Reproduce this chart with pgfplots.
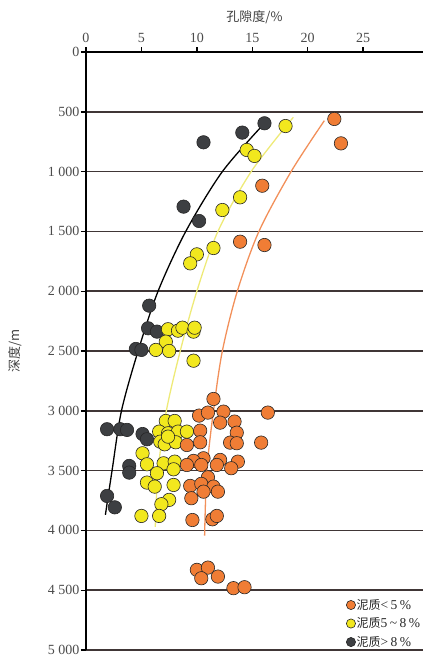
\documentclass[border=0pt]{standalone}
\usepackage{fontspec}
\setmainfont{Liberation Serif}
\newfontfamily\cjk{Noto Sans CJK SC}
\usepackage{pgfplots}
\pgfplotsset{compat=1.18}
\definecolor{orA}{HTML}{F07D35}
\definecolor{yeA}{HTML}{F2E81E}
\definecolor{dkA}{HTML}{3D3F42}
\definecolor{orL}{HTML}{F2905A}
\definecolor{yeL}{HTML}{EEEA78}
\definecolor{gridc}{HTML}{403636}
\newcommand{\nizhi}[1]{{\fontsize{12}{12}\selectfont\cjk 泥质}{\fontsize{13.5}{12}\selectfont #1}}
\newcommand{\gp}{\hspace{2.5pt}}
\begin{document}
\begin{tikzpicture}
\begin{axis}[
  scale only axis, width=337pt, height=598pt,
  xmin=0, xmax=30.4, ymin=0, ymax=5000, y dir=reverse,
  axis x line*=top, axis y line*=left,
  x axis line style={-, line width=1.8pt, black},
  y axis line style={-, line width=2.2pt, black},
  xtick={0,5,...,25}, ytick={0,500,...,5000},
  xtick pos=top, xticklabel pos=top, ytick pos=left,
  tick align=outside, major tick length=5pt,
  tick style={black, line width=1.4pt},
  ymajorgrids, grid style={gridc, line width=1.6pt},
  /pgf/number format/assume math mode=true,
  /pgf/number format/1000 sep={\ },
  ticklabel style={font=\fontsize{14}{14}\selectfont, text=black!70},
  xticklabel style={yshift=1pt},
  yticklabel style={xshift=2pt},
  xlabel={\cjk 孔隙度/\%},
  xlabel style={at={(axis description cs:0.5,1)}, anchor=center, yshift=35pt, font=\fontsize{13}{13}\selectfont, text=black!75},
  ylabel={\cjk 深度/m},
  ylabel style={at={(axis description cs:0,0.5)}, anchor=center, yshift=71pt, font=\fontsize{13}{13}\selectfont, text=black!75},
  legend style={at={(axis description cs:0.995,0)}, anchor=south east, yshift=1pt, draw=none, fill=none,
    row sep=5pt, inner sep=0pt,
    nodes={inner sep=1pt, text=black!85}},
  legend cell align=left, reverse legend,
  legend image code/.code={\draw[#1, mark size=4.6pt] plot coordinates {(0pt,0pt)};},
  clip=false,
]
% trend curves
\addplot[black, line width=1.3pt, smooth, forget plot] coordinates {
(16.1,596) (12.3,1000) (9.0,1500) (6.5,2000) (4.7,2500) (3.2,3000) (2.35,3500) (1.75,3870)};
\addplot[yeL, line width=1.3pt, smooth, forget plot] coordinates {
(18.7,546) (14.9,1000) (11.9,1500) (10.0,2000) (8.5,2500) (7.25,3000) (6.5,3500) (6.25,3970)};
\addplot[orL, line width=1.3pt, smooth, forget plot] coordinates {
(21.5,574) (18.5,1000) (15.6,1500) (13.65,2000) (12.3,2500) (11.5,3000) (10.9,3500) (10.7,4043)};
% dark: mud > 8%
\addplot[only marks, mark=*, mark size=6.7pt, mark options={fill=dkA, draw=black!85, line width=0.6pt}] coordinates {
(16.1,596) (14.1,674) (10.6,755) (8.8,1293) (10.2,1413) (5.7,2121) (5.6,2310) (6.4,2338)
(4.5,2483) (5.0,2491) (1.9,3154) (3.1,3154) (3.7,3160) (5.1,3194) (5.5,3238)
(3.9,3461) (3.9,3517) (1.9,3712) (2.6,3807)};
\addlegendentry{\nizhi{>\gp 8\gp\%}}
% yellow: mud 5-8%
\addplot[only marks, mark=*, mark size=6.7pt, mark options={fill=yeA, draw=black!85, line width=0.6pt}] coordinates {
(18.0,619) (14.5,819) (15.2,869) (13.9,1215) (12.3,1321) (11.5,1639) (10.0,1692) (9.4,1767)
(7.4,2318) (8.3,2330) (8.7,2305) (9.7,2338) (9.8,2305) (7.2,2422) (6.3,2491) (7.5,2500) (9.7,2581)
(7.2,3085) (8.0,3085) (6.6,3174) (7.4,3188) (8.3,3174) (9.1,3174) (6.7,3258) (7.1,3280)
(8.1,3263) (7.4,3216) (5.1,3355) (5.5,3447) (7.0,3439) (8.0,3425) (7.9,3489) (6.4,3522)
(5.5,3600) (6.2,3634) (7.9,3620) (7.5,3745) (6.8,3781) (5.0,3879) (6.6,3879)};
\addlegendentry{\nizhi{5\gp\textasciitilde\gp 8\gp\%}}
% orange: mud < 5%
\addplot[only marks, mark=*, mark size=6.7pt, mark options={fill=orA, draw=black!85, line width=0.6pt}] coordinates {
(22.4,560) (23.0,764) (15.9,1118) (13.9,1586) (16.1,1614)
(11.5,2901) (10.2,3040) (11.0,3015) (12.4,3007) (16.4,3015) (12.1,3099) (13.4,3090)
(10.3,3166) (13.6,3183) (10.3,3263) (9.1,3286) (13.0,3266) (13.6,3271) (15.8,3266)
(10.6,3397) (9.7,3419) (9.1,3453) (10.4,3453) (12.1,3411) (11.8,3453) (13.7,3425) (13.1,3480)
(11.0,3556) (9.4,3628) (10.4,3611) (11.5,3634) (10.6,3676) (11.9,3676) (9.5,3731)
(9.6,3913) (11.4,3907) (11.8,3879)
(10.0,4330) (11.0,4311) (10.4,4400) (11.9,4386) (13.3,4483) (14.3,4475)};
\addlegendentry{\nizhi{<\gp 5\gp\%}}
\end{axis}
\pgfresetboundingbox
\path ([xshift=-86pt,yshift=-12pt]current axis.south west) rectangle ([yshift=52pt]current axis.north east);
\end{tikzpicture}
\end{document}
